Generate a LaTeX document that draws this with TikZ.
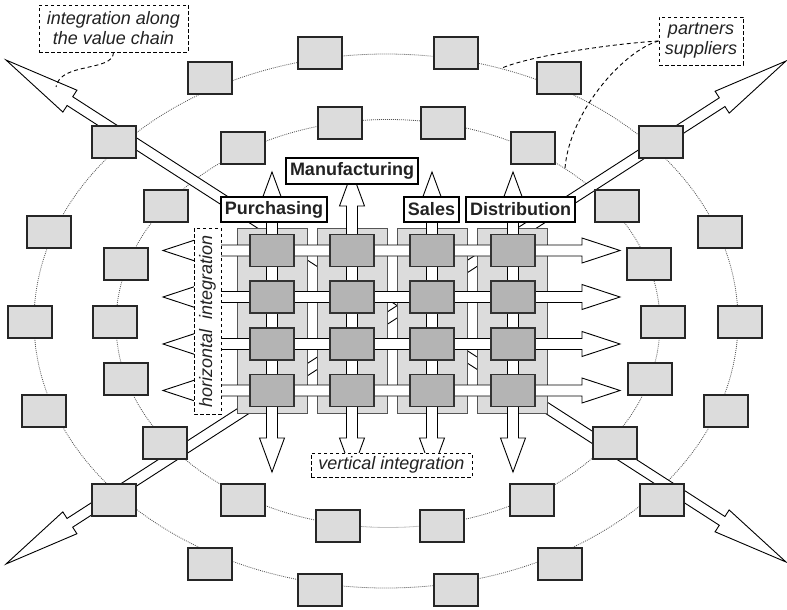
\documentclass[tikz,border=0pt]{standalone}
\usepackage{fontspec}
\setmainfont{Liberation Sans}
\usetikzlibrary{calc}

\definecolor{boxgray}{HTML}{DCDCDC}
\definecolor{cellgray}{HTML}{B4B4B4}
\definecolor{edgegray}{HTML}{555555}
\definecolor{dotgray}{HTML}{555555}
\definecolor{inkgray}{HTML}{222222}

\tikzset{
  ring/.style={draw=dotgray, line width=0.8pt, dash pattern=on 0.9pt off 1.1pt},
  bigarrow/.style={draw=black, fill=white, line width=0.9pt, line join=miter},
  gbox/.style={draw=black!85, fill=boxgray, line width=1.1pt, minimum width=44pt, minimum height=32pt, inner sep=0pt},
  cell/.style={draw=black!80, fill=cellgray, line width=1.1pt, minimum width=44pt, minimum height=32pt, inner sep=0pt},
  panel/.style={draw=edgegray, fill=boxgray, line width=1pt, minimum width=70pt, minimum height=185pt, inner sep=0pt},
  func/.style={draw=black, fill=white, line width=1.1pt, inner sep=0pt, text=inkgray, font=\bfseries\fontsize{18}{20}\selectfont},
  note/.style={draw=black, fill=white, line width=0.9pt, dash pattern=on 3.5pt off 2.5pt, inner sep=0pt, align=center, text=inkgray, font=\itshape\fontsize{18}{20}\selectfont},
  leader/.style={draw=black, line width=0.9pt, dash pattern=on 4pt off 3pt},
}

% double-headed block arrow: from, to, shaft half-width, head half-width, head length
\newcommand{\dblarrow}[5]{%
  \draw[bigarrow] (#1)
    -- ($(#1)!#5!(#2)!#4!90:(#2)$) -- ($(#1)!#5!(#2)!#3!90:(#2)$)
    -- ($(#2)!#5!(#1)!#3!-90:(#1)$) -- ($(#2)!#5!(#1)!#4!-90:(#1)$)
    -- (#2)
    -- ($(#2)!#5!(#1)!#4!90:(#1)$) -- ($(#2)!#5!(#1)!#3!90:(#1)$)
    -- ($(#1)!#5!(#2)!#3!-90:(#2)$) -- ($(#1)!#5!(#2)!#4!-90:(#2)$)
    -- cycle;}

\begin{document}
\begin{tikzpicture}[x=1pt,y=-1pt]
\useasboundingbox (0,0) rectangle (787,610);

% partner rings
\draw[ring] (386,321) ellipse [x radius=352pt, y radius=267pt];
\draw[ring] (388,323.5) ellipse [x radius=272pt, y radius=204pt];

% value chain arrows
\coordinate (d1a) at (6,60);
\coordinate (d1b) at (786,562);
\coordinate (d2a) at (6,564);
\coordinate (d2b) at (786,61);
\dblarrow{d1a}{d1b}{5.2pt}{13pt}{76pt}
\dblarrow{d2a}{d2b}{5.2pt}{13pt}{76pt}

% outer ring of partners
\foreach \x/\y [count=\k] in {210/78,320/53,456/53,559/78,661/142,720/232,740/322,726/411,662/500,
                               560/564,456/590,320/590,210/564,114/500,44/411,30/322,49/232,114/142}
  \node[gbox] (o\k) at (\x,\y) {};

% inner ring of suppliers
\foreach \x/\y [count=\k] in {243/148,340/123,443/123,533/148,617/206,649/264,663/322,650/379,615/443,
                               532/500,442/526,338/526,243/500,165/443,126/379,115/322,126/264,166/206}
  \node[gbox] (i\k) at (\x,\y) {};

% function panels
\foreach \x [count=\k] in {272,352.5,432.5,512.5}
  \node[panel] (p\k) at (\x,320.5) {};

% horizontal integration arrows
\foreach \y [count=\k] in {250.5,297,344,390.5}{
  \coordinate (hl\k) at (163,\y);
  \coordinate (hr\k) at (620,\y);
  \dblarrow{hl\k}{hr\k}{5.5pt}{12.5pt}{38pt}
}

% vertical integration arrows
\foreach \x [count=\k] in {272,352,432,513}{
  \coordinate (vt\k) at (\x,172);
  \coordinate (vb\k) at (\x,472);
  \dblarrow{vt\k}{vb\k}{5.5pt}{12.5pt}{34pt}
}

% process cells
\foreach \x [count=\c] in {272,352,432,513}
  \foreach \y [count=\r] in {250.5,297,344,390.5}
    \node[cell] (c\r\c) at (\x,\y) {};

% function labels
\node[func, minimum width=106pt, minimum height=25pt] (purch) at (274,209.5) {Purchasing};
\node[func, minimum width=132pt, minimum height=26pt] (manuf) at (352,171) {Manufacturing};
\node[func, minimum width=55pt, minimum height=25pt] (sales) at (431.5,209.5) {Sales};
\node[func, minimum width=109pt, minimum height=25pt] (distr) at (520.5,209.5) {Distribution};

% notes
\node[note, minimum width=149pt, minimum height=47pt] (chain) at (113.5,28.5) {integration along\\the value chain};
\node[note, minimum width=84pt, minimum height=48pt] (partners) at (701,41) {partners\\suppliers};
\node[note, minimum width=186pt, minimum height=27pt, rotate=90] (horiz) at (207.5,321) {horizontal\hspace{10pt}integration};
\node[note, minimum width=161pt, minimum height=24pt] (vert) at (391.5,465) {vertical integration};

% leader lines
\coordinate (chainend) at (56,87);
\coordinate (outerend) at (502,68);
\coordinate (innerend) at (565,168);
\draw[leader] (chain.south) .. controls (113,72) and (60,62) .. (chainend);
\draw[leader] (partners.west) .. controls (610,44) and (530,56) .. (outerend);
\draw[leader] (partners.west) .. controls (625,50) and (570,110) .. (innerend);

\end{tikzpicture}
\end{document}
